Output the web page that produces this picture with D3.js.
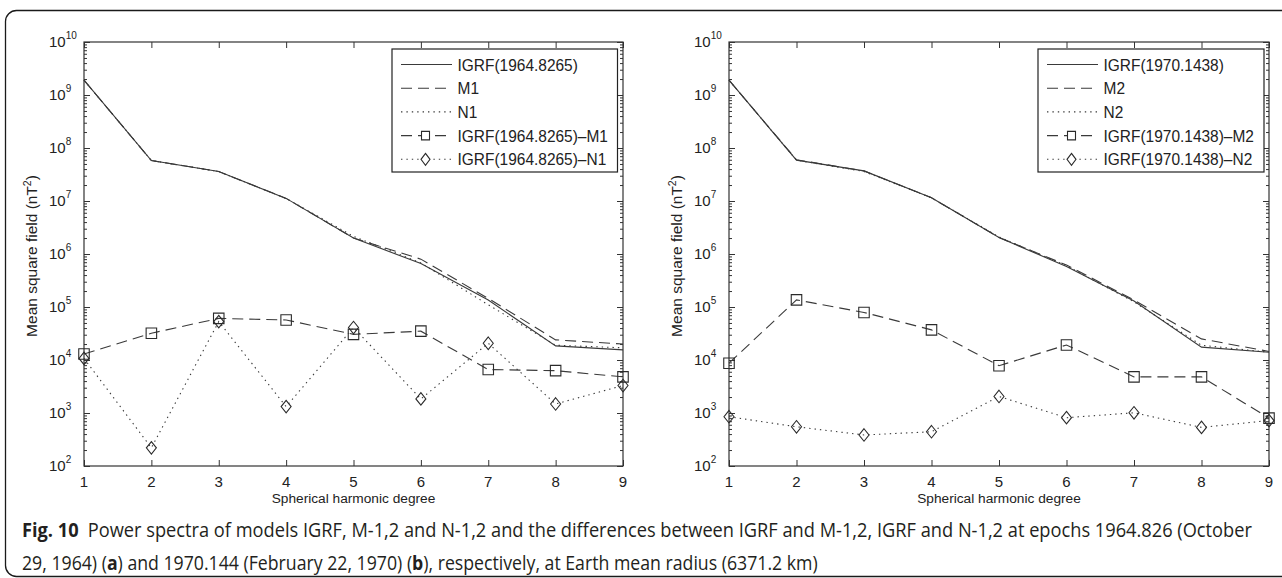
<!DOCTYPE html>
<html>
<head>
<meta charset="utf-8">
<script src="https://cdn.jsdelivr.net/npm/d3@7/dist/d3.min.js"></script>
<style>
  html, body { margin: 0; padding: 0; background: #fff; }
  svg { display: block; }
  .plot-text { font-family: "Liberation Sans", Arial, sans-serif; fill: #222; }
  .caption { font-family: "Open Sans", "Noto Sans", sans-serif; fill: #231f20; }
</style>
</head>
<body>
<svg id="fig" width="1282" height="578"></svg>
<script>
// Spherical harmonic degrees
const degrees = [1, 2, 3, 4, 5, 6, 7, 8, 9];

// Panel (a): epoch 1964.8265
const igrf1964 = [1.9e9, 5.8e7, 3.6e7, 1.12e7, 2.0e6, 6.6e5, 1.35e5, 1.85e4, 1.55e4];
const m1       = [1.9e9, 5.8e7, 3.6e7, 1.12e7, 2.0e6, 8.0e5, 1.45e5, 2.4e4, 2.0e4];
const n1       = [1.9e9, 5.8e7, 3.6e7, 1.12e7, 2.15e6, 6.8e5, 1.1e5, 1.9e4, 1.7e4];
const diffM1   = [1.3e4, 3.2e4, 6.1e4, 5.7e4, 3.05e4, 3.5e4, 6.6e3, 6.3e3, 4.8e3];
const diffN1   = [1.07e4, 220, 5.3e4, 1.32e3, 4.1e4, 1.84e3, 2.07e4, 1.48e3, 3.3e3];

// Panel (b): epoch 1970.1438
const igrf1970 = [1.9e9, 5.9e7, 3.7e7, 1.15e7, 2.05e6, 5.8e5, 1.3e5, 1.75e4, 1.4e4];
const m2       = [1.9e9, 6.0e7, 3.7e7, 1.15e7, 2.05e6, 6.2e5, 1.35e5, 2.5e4, 1.45e4];
const n2       = [1.9e9, 5.9e7, 3.6e7, 1.15e7, 2.1e6, 6.0e5, 1.25e5, 1.9e4, 1.4e4];
const diffM2   = [8.7e3, 1.36e5, 7.9e4, 3.7e4, 7.8e3, 1.92e4, 4.8e3, 4.8e3, 800];
const diffN2   = [850, 550, 385, 443, 2.05e3, 815, 1.01e3, 535, 720];

// Legend labels
const legendA = ["IGRF(1964.8265)", "M1", "N1", "IGRF(1964.8265)\u2013M1", "IGRF(1964.8265)\u2013N1"];
const legendB = ["IGRF(1970.1438)", "M2", "N2", "IGRF(1970.1438)\u2013M2", "IGRF(1970.1438)\u2013N2"];

// Axis tick values and titles
const decadeExponents = [2, 3, 4, 5, 6, 7, 8, 9, 10];
const xLabel = "Spherical harmonic degree";
const yLabel = "Mean square field (nT";

const svg = d3.select("#fig");
const ink = "#333";

// Outer frame with rounded corners
svg.append("rect")
  .attr("x", 5.5).attr("y", 10.5)
  .attr("width", 1320).attr("height", 566)
  .attr("rx", 11).attr("ry", 11)
  .attr("fill", "none").attr("stroke", "#1a1a1a").attr("stroke-width", 1.3);

const styles = [
  { dash: null,    marker: null },
  { dash: "11,6",  marker: null },
  { dash: "1.4,4", marker: null },
  { dash: "11,6",  marker: "square" },
  { dash: "1.4,4", marker: "diamond" }
];

// Unfilled square or diamond marker; w and h are full width and height
function markerPath(type, cx, cy, w, h) {
  const a = w / 2, b = h / 2;
  if (type === "square") {
    return `M${cx - a},${cy - b}H${cx + a}V${cy + b}H${cx - a}Z`;
  }
  return `M${cx},${cy - b}L${cx + a},${cy}L${cx},${cy + b}L${cx - a},${cy}Z`;
}

function drawPanel(p) {
  const g = svg.append("g");
  const x = d3.scaleLinear().domain([1, 9]).range([p.left, p.right]);
  const y = d3.scaleLog().domain([1e2, 1e10]).range([p.bottom, p.top]);

  // Minor and major ticks (inward, on all four sides)
  const minors = [];
  decadeExponents.slice(0, -1).forEach(e => {
    for (let k = 2; k <= 9; k++) minors.push(k * Math.pow(10, e));
  });
  const majors = decadeExponents.map(e => Math.pow(10, e));

  const tickStyle = sel => {
    sel.select(".domain").remove();
    sel.selectAll("line").attr("stroke", ink).attr("stroke-width", 1);
    sel.selectAll("text").remove();
  };
  g.append("g").attr("transform", `translate(${p.left},0)`)
    .call(d3.axisLeft(y).tickValues(minors).tickSizeInner(-3).tickSizeOuter(0).tickFormat("")).call(tickStyle);
  g.append("g").attr("transform", `translate(${p.right},0)`)
    .call(d3.axisRight(y).tickValues(minors).tickSizeInner(-3).tickSizeOuter(0).tickFormat("")).call(tickStyle);
  g.append("g").attr("transform", `translate(${p.left},0)`)
    .call(d3.axisLeft(y).tickValues(majors).tickSizeInner(-6).tickSizeOuter(0).tickFormat("")).call(tickStyle);
  g.append("g").attr("transform", `translate(${p.right},0)`)
    .call(d3.axisRight(y).tickValues(majors).tickSizeInner(-6).tickSizeOuter(0).tickFormat("")).call(tickStyle);
  g.append("g").attr("transform", `translate(0,${p.bottom})`)
    .call(d3.axisBottom(x).tickValues(degrees).tickSizeInner(-6).tickSizeOuter(0).tickFormat("")).call(tickStyle);
  g.append("g").attr("transform", `translate(0,${p.top})`)
    .call(d3.axisTop(x).tickValues(degrees).tickSizeInner(-6).tickSizeOuter(0).tickFormat("")).call(tickStyle);

  // Axes box
  g.append("rect")
    .attr("x", p.left).attr("y", p.top)
    .attr("width", p.right - p.left).attr("height", p.bottom - p.top)
    .attr("fill", "none").attr("stroke", ink).attr("stroke-width", 1.2);

  // Y tick labels: 10 with superscript exponent
  decadeExponents.forEach(e => {
    const t = g.append("text").attr("class", "plot-text")
      .attr("x", p.left - 35).attr("y", y(Math.pow(10, e)) + 5.3)
      .attr("font-size", 15);
    t.append("tspan").text("10");
    t.append("tspan").attr("font-size", 10).attr("dy", -8).text(e);
  });

  // X tick labels
  degrees.forEach(d => {
    g.append("text").attr("class", "plot-text")
      .attr("x", x(d)).attr("y", p.bottom + 21)
      .attr("text-anchor", "middle").attr("font-size", 15)
      .text(d);
  });

  // Axis titles
  g.append("text").attr("class", "plot-text")
    .attr("x", (p.left + p.right) / 2).attr("y", p.bottom + 37)
    .attr("text-anchor", "middle").attr("font-size", 13.7)
    .text(xLabel);
  const yl = g.append("text").attr("class", "plot-text")
    .attr("transform", `translate(${p.left - 47},${(p.top + p.bottom) / 2 + 2}) rotate(-90)`)
    .attr("text-anchor", "middle").attr("font-size", 15.5);
  yl.append("tspan").text(yLabel);
  yl.append("tspan").attr("font-size", 10.5).attr("dy", -6).text("2");
  yl.append("tspan").attr("dy", 6).text(")");

  // Series
  const line = d3.line().x((v, i) => x(degrees[i])).y(v => y(v));
  p.series.forEach((vals, si) => {
    const st = styles[si];
    g.append("path").datum(vals)
      .attr("d", line)
      .attr("fill", "none").attr("stroke", "#3a3a3a").attr("stroke-width", 1.1)
      .attr("stroke-dasharray", st.dash);
    if (st.marker) {
      const mw = st.marker === "square" ? 10.5 : 10;
      const mh = st.marker === "square" ? 10.5 : 12.5;
      g.selectAll(null).data(vals).enter().append("path")
        .attr("d", (v, i) => markerPath(st.marker, x(degrees[i]), y(v), mw, mh))
        .attr("fill", "none").attr("stroke", "#2a2a2a").attr("stroke-width", 1.1);
    }
  });

  // Legend
  const lg = g.append("g");
  lg.append("rect")
    .attr("x", p.legend.x).attr("y", p.legend.y)
    .attr("width", p.legend.w).attr("height", p.legend.h)
    .attr("fill", "#fff").attr("stroke", "#222").attr("stroke-width", 1.2);
  p.labels.forEach((lab, i) => {
    const cy = p.legend.y + 15.5 + i * 23.7;
    const x0 = p.legend.x + 9, x1 = p.legend.x + 60;
    const st = styles[i];
    lg.append("line")
      .attr("x1", x0).attr("x2", x1).attr("y1", cy).attr("y2", cy)
      .attr("stroke", "#3a3a3a").attr("stroke-width", 1.1)
      .attr("stroke-dasharray", st.dash);
    if (st.marker) {
      const mw = st.marker === "square" ? 8 : 9;
      const mh = st.marker === "square" ? 8.5 : 12;
      lg.append("path")
        .attr("d", markerPath(st.marker, (x0 + x1) / 2 - 1, cy, mw, mh))
        .attr("fill", "#fff").attr("stroke", "#2a2a2a").attr("stroke-width", 1.1);
    }
    lg.append("text").attr("class", "plot-text")
      .attr("transform", `translate(${x1 + 5.5},${cy + 6}) scale(0.91,1)`)
      .attr("font-size", 17)
      .text(lab);
  });
}

drawPanel({
  left: 84, right: 623, top: 42, bottom: 466,
  series: [igrf1964, m1, n1, diffM1, diffN1],
  labels: legendA,
  legend: { x: 392, y: 49, w: 225.5, h: 123 }
});

drawPanel({
  left: 729, right: 1269, top: 42, bottom: 466,
  series: [igrf1970, m2, n2, diffM2, diffN2],
  labels: legendB,
  legend: { x: 1038, y: 49, w: 226, h: 123 }
});

// Figure caption: each line is squeezed horizontally to its column width
function captionLine(yBase, width, parts) {
  const t = svg.append("text").attr("class", "caption")
    .attr("x", 0).attr("y", 0).attr("font-size", 20);
  parts.forEach(([txt, bold]) => {
    t.append("tspan").attr("font-weight", bold ? "bold" : null).text(txt);
  });
  const natural = t.node().getComputedTextLength();
  t.attr("transform", `translate(22,${yBase}) scale(${width / natural},1)`);
}

captionLine(537, 1231, [
  ["Fig. 10", true],
  ["\u2002Power spectra of models IGRF, M-1,2 and N-1,2 and the differences between IGRF and M-1,2, IGRF and N-1,2 at epochs 1964.826 (October", false]
]);
captionLine(570, 796, [
  ["29, 1964) (", false], ["a", true],
  [") and 1970.144 (February 22, 1970) (", false], ["b", true],
  ["), respectively, at Earth mean radius (6371.2 km)", false]
]);
</script>
</body>
</html>
